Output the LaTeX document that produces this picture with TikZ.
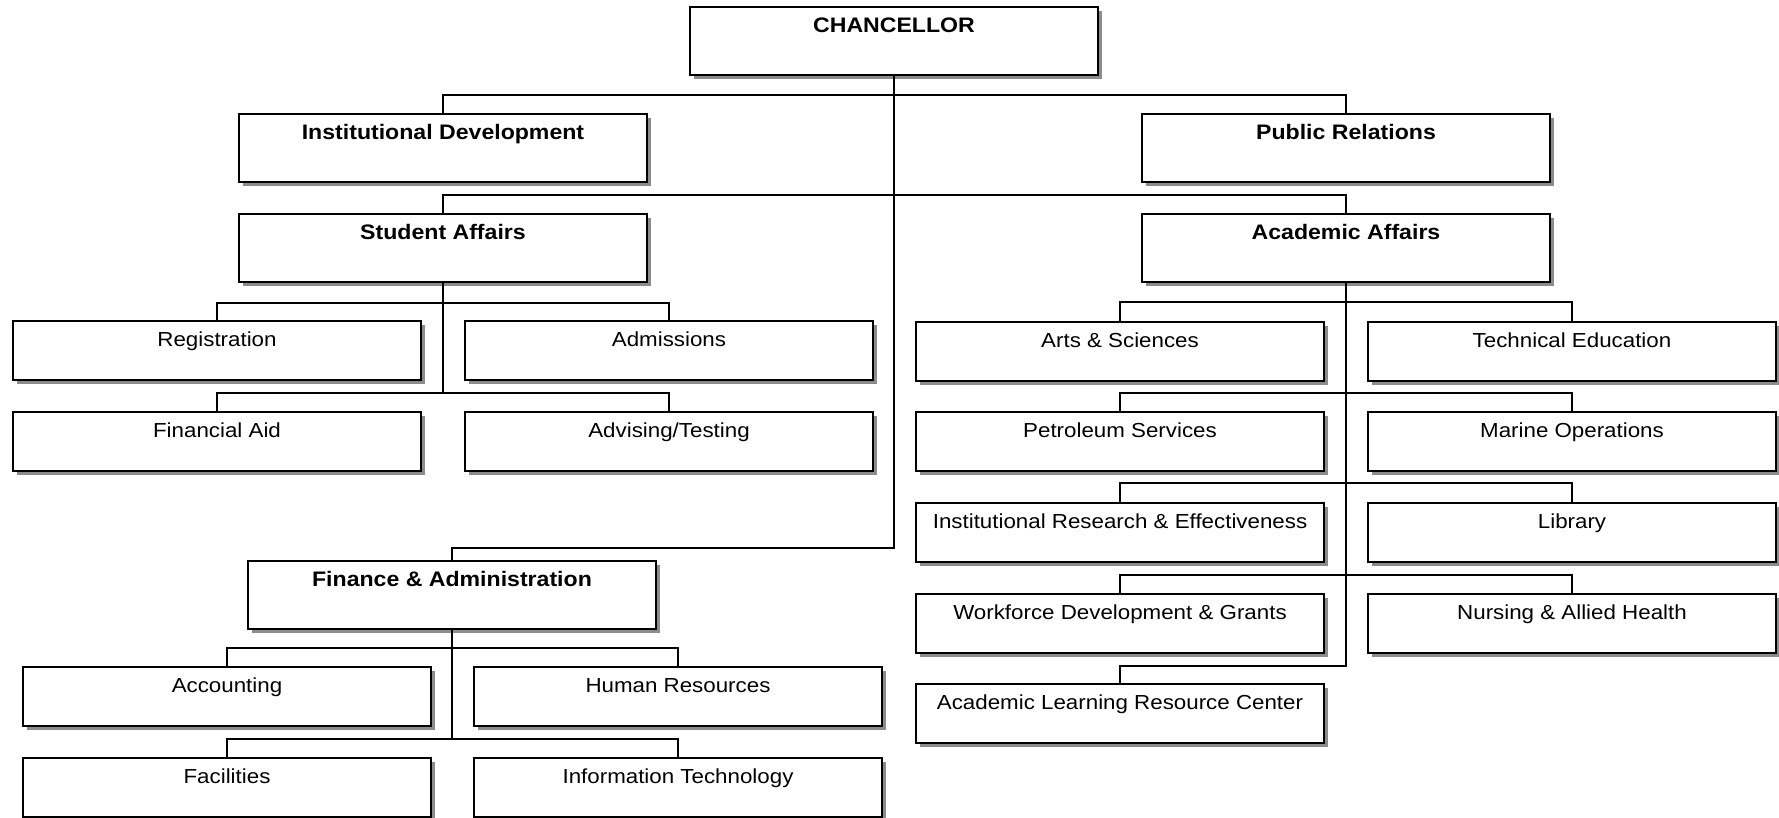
\documentclass[tikz,border=0pt]{standalone}
\usepackage{fontspec}
\setmainfont{Liberation Sans}[FakeStretch=1.1]
\usetikzlibrary{shadows}
\tikzset{
  box/.style={draw=black, line width=1.6pt, fill=white, rectangle, anchor=north,
    minimum width=408pt, inner xsep=0pt, inner ysep=0pt, outer sep=0pt,
    text height=25.5pt, text depth=33.5pt,
    font=\fontsize{20.3}{24}\selectfont,
    drop shadow={shadow xshift=4pt, shadow yshift=-4pt, fill=black!45, opacity=1}},
  bigbox/.style={box, text depth=42.5pt, font=\fontsize{21}{25}\selectfont\bfseries},
  conn/.style={draw=black, line width=1.6pt},
}
\begin{document}
\begin{tikzpicture}[x=1pt, y=-1pt]
\useasboundingbox (0,0) rectangle (1779,818);
% level 1-2
\node[bigbox] (chan) at (894,7) {CHANCELLOR};
\node[bigbox] (instdev) at (443,114) {Institutional Development};
\node[bigbox] (pubrel) at (1346,114) {Public Relations};
\node[bigbox] (stud) at (443,214) {Student Affairs};
\node[bigbox] (acad) at (1346,214) {Academic Affairs};
\node[bigbox] (fin) at (452,561) {Finance \& Administration};
% student affairs units
\node[box] (reg) at (217,321) {Registration};
\node[box] (adm) at (669,321) {Admissions};
\node[box] (finaid) at (217,412) {Financial Aid};
\node[box] (adv) at (669,412) {Advising/Testing};
% finance units
\node[box] (acct) at (227,667) {Accounting};
\node[box] (hr) at (678,667) {Human Resources};
\node[box] (fac) at (227,758) {Facilities};
\node[box] (it) at (678,758) {Information Technology};
% academic units
\node[box] (arts) at (1120,322) {Arts \& Sciences};
\node[box] (tech) at (1572,322) {Technical Education};
\node[box] (pet) at (1120,412) {Petroleum Services};
\node[box] (mar) at (1572,412) {Marine Operations};
\node[box] (ire) at (1120,503) {Institutional Research \& Effectiveness};
\node[box] (lib) at (1572,503) {Library};
\node[box] (wf) at (1120,594) {Workforce Development \& Grants};
\node[box] (nur) at (1572,594) {Nursing \& Allied Health};
\node[box] (alrc) at (1120,684) {Academic Learning Resource Center};
% connectors
\draw[conn] (chan.south) -- ++(0,473) -| (fin.north);
\draw[conn] (instdev.north) -- ++(0,-19) -| (pubrel.north);
\draw[conn] (stud.north) -- ++(0,-19) -| (acad.north);
\draw[conn] (stud.south) -- ++(0,111);
\draw[conn] (reg.north) -- ++(0,-18) -| (adm.north);
\draw[conn] (finaid.north) -- ++(0,-19) -| (adv.north);
\draw[conn] (fin.south) -- ++(0,110);
\draw[conn] (acct.north) -- ++(0,-19) -| (hr.north);
\draw[conn] (fac.north) -- ++(0,-19) -| (it.north);
\draw[conn] (acad.south) -- ++(0,384) -| (alrc.north);
\draw[conn] (arts.north) -- ++(0,-20) -| (tech.north);
\draw[conn] (pet.north) -- ++(0,-19) -| (mar.north);
\draw[conn] (ire.north) -- ++(0,-20) -| (lib.north);
\draw[conn] (wf.north) -- ++(0,-19) -| (nur.north);
\end{tikzpicture}
\end{document}
